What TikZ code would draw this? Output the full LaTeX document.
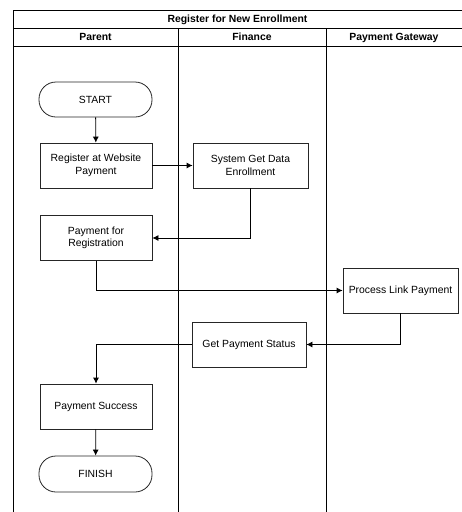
\documentclass[tikz,border=0pt]{standalone}
\usepackage{fontspec}
\setmainfont{Liberation Sans}
\usetikzlibrary{arrows.meta}

\begin{document}
\begin{tikzpicture}[x=1pt,y=-1pt,
  lane/.style={black,line width=0.8pt},
  head/.style={font=\fontsize{10.4}{12}\selectfont\bfseries,text height=7.5pt,text depth=2pt,inner sep=0pt},
  task/.style={draw=black!85,line width=0.8pt,minimum width=112pt,minimum height=45pt,align=center,font=\fontsize{10.4}{12.5}\selectfont,inner sep=2pt},
  term/.style={task,rounded corners=17pt,minimum height=35pt},
  flow/.style={line width=0.8pt,-{Latex[length=6pt,width=6pt]}}]
\useasboundingbox (0,0) rectangle (462,512);
% swimlanes
\draw [lane] (13,512) -- (13,10) -- (462,10);
\draw [lane] (13,28.5) -- (462,28.5);
\draw [lane] (13,46.5) -- (462,46.5);
\draw [lane] (178,28.5) -- (178,512);
\draw [lane] (326,28.5) -- (326,512);
\node [head] (title) at (237.5,19.25) {Register for New Enrollment};
\node [head] (parent) at (95.5,37.5) {Parent};
\node [head] (finance) at (252,37.5) {Finance};
\node [head] (gateway) at (394,37.5) {Payment Gateway};
% steps
\node [term,minimum width=113pt] (start) at (95.5,99.5) {START};
\node [task] (reg) at (96,165.5) {Register at Website\\Payment};
\node [task,minimum width=115pt] (sysget) at (250.5,165.5) {System Get Data\\Enrollment};
\node [task] (payreg) at (96,238) {Payment for\\Registration};
\node [task,minimum width=115pt] (process) at (400.5,290.5) {Process Link Payment};
\node [task,minimum width=114pt] (status) at (249,344.5) {Get Payment Status};
\node [task] (success) at (96,406.5) {Payment Success};
\node [term,minimum width=113pt,minimum height=36pt] (finish) at (95.5,474) {FINISH};
% connectors
\draw [flow] (start) -- (reg);
\draw [flow] (reg) -- (sysget);
\draw [flow] (sysget.south) |- (payreg.east);
\draw [flow] (payreg.south) |- (process.west);
\draw [flow] (process.south) |- (status.east);
\draw [flow] (status.west) -| (success.north);
\draw [flow] (success) -- (finish);
\end{tikzpicture}
\end{document}
